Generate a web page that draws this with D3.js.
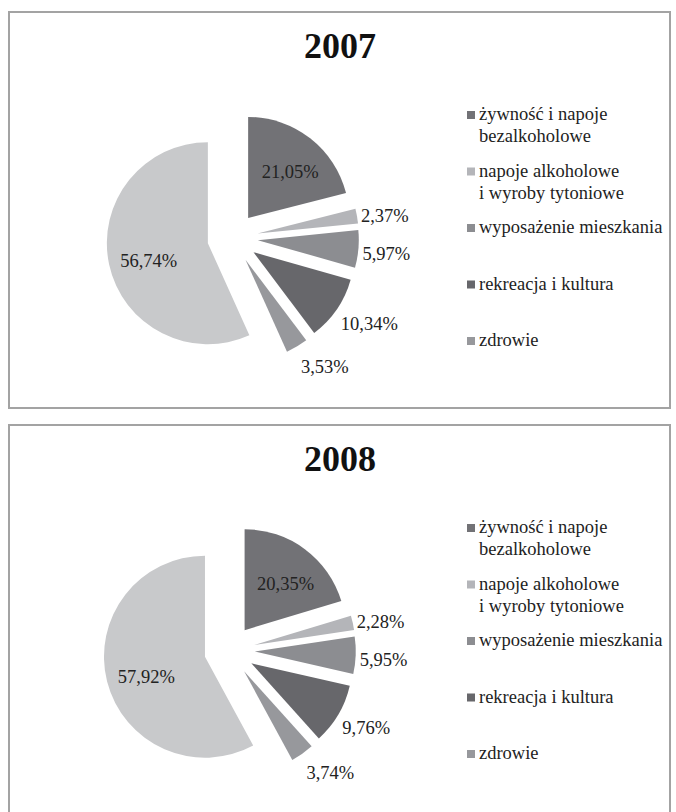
<!DOCTYPE html>
<html>
<head>
<meta charset="utf-8">
<script src="https://cdn.jsdelivr.net/npm/d3@7"></script>
<style>
  html, body { margin: 0; padding: 0; background: #ffffff; }
  svg { display: block; }
  text { font-family: "Liberation Serif", "Times New Roman", serif; }
</style>
</head>
<body>
<svg id="chart" width="676" height="812"></svg>
<script>
// ---- data ----
const years = ["2007", "2008"];
const categories = [
  "żywność i napoje bezalkoholowe",
  "napoje alkoholowe i wyroby tytoniowe",
  "wyposażenie mieszkania",
  "rekreacja i kultura",
  "zdrowie",
  "pozostałe"
];
const legendLines = [
  ["żywność i napoje", "bezalkoholowe"],
  ["napoje alkoholowe", "i wyroby tytoniowe"],
  ["wyposażenie mieszkania"],
  ["rekreacja i kultura"],
  ["zdrowie"]
];
const values2007 = [21.05, 2.37, 5.97, 10.34, 3.53, 56.74];
const values2008 = [20.35, 2.28, 5.95, 9.76, 3.74, 57.92];
const colors = ["#727276", "#b4b5b9", "#8c8d91", "#67676b", "#97989c", "#c8c9cb"];

// ---- layout ----
const panels = [
  { year: years[0], values: values2007, top: 12, cx: 232.6, cy: 237.9 },
  { year: years[1], values: values2008, top: 425, cx: 229.5, cy: 650.5 }
];
const R = 101, EXPLODE = 25.3;
const svg = d3.select("#chart");
const color = d3.scaleOrdinal().domain(categories).range(colors);
const pie = d3.pie().sort(null).value(d => d.value).startAngle(0).endAngle(2 * Math.PI);
const arc = d3.arc().innerRadius(0).outerRadius(R);
const fmt = v => v.toFixed(2).replace(".", ",") + "%";
const FS = 18.5;

panels.forEach(p => {
  const g = svg.append("g");
  g.append("rect")
    .attr("x", 9).attr("y", p.top)
    .attr("width", 661).attr("height", 396)
    .attr("fill", "#fff").attr("stroke", "#a3a3a3").attr("stroke-width", 2);

  g.append("text")
    .attr("x", 340).attr("y", p.top + 45.5)
    .attr("text-anchor", "middle")
    .attr("font-size", 36).attr("font-weight", "bold").attr("fill", "#111")
    .text(p.year);

  const data = categories.map((c, i) => ({ cat: c, value: p.values[i] }));
  const arcs = pie(data);
  const pg = g.append("g").attr("transform", `translate(${p.cx},${p.cy})`);

  arcs.forEach(a => {
    const mid = (a.startAngle + a.endAngle) / 2;
    const ux = Math.sin(mid), uy = -Math.cos(mid);
    const ox = ux * EXPLODE, oy = uy * EXPLODE;
    pg.append("path")
      .attr("d", arc(a))
      .attr("transform", `translate(${ox},${oy})`)
      .attr("fill", color(a.data.cat));

    const label = fmt(a.data.value);
    if (a.data.value >= 15) {
      const lr = R * 0.63;
      pg.append("text")
        .attr("x", ox + ux * lr + 3).attr("y", oy + uy * lr + 4)
        .attr("dy", "0.35em")
        .attr("text-anchor", "middle")
        .attr("font-size", FS).attr("fill", "#222")
        .text(label);
    } else {
      const ax = ox + ux * R, ay = oy + uy * R;
      pg.append("text")
        .attr("x", ax + 4).attr("y", ay + 3 + 20 * uy)
        .attr("dy", "0.35em")
        .attr("text-anchor", "start")
        .attr("font-size", FS).attr("fill", "#222")
        .text(label);
    }
  });

  // legend
  const lg = g.append("g");
  legendLines.forEach((lines, i) => {
    const base = p.top + 108 + i * 56.5;
    lg.append("rect")
      .attr("x", 467).attr("y", base - 9)
      .attr("width", 8).attr("height", 8)
      .attr("fill", colors[i]);
    lines.forEach((t, j) => {
      lg.append("text")
        .attr("x", 479).attr("y", base + j * 22)
        .attr("font-size", FS).attr("fill", "#222")
        .text(t);
    });
  });
});
</script>
</body>
</html>
